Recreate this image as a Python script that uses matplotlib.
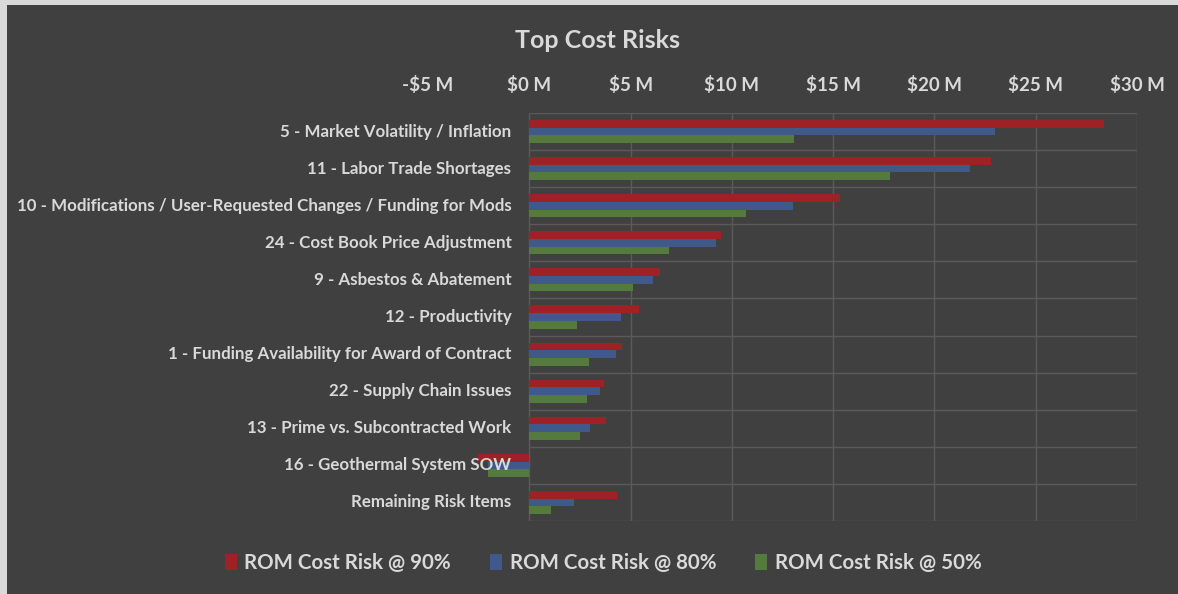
import matplotlib
matplotlib.use("Agg")
import matplotlib.pyplot as plt
from matplotlib.patches import Patch, Rectangle

# values in $M
risks = [
    "5 - Market Volatility / Inflation",
    "11 - Labor Trade Shortages",
    "10 - Modifications / User-Requested Changes / Funding for Mods",
    "24 - Cost Book Price Adjustment",
    "9 - Asbestos & Abatement",
    "12 - Productivity",
    "1 - Funding Availability for Award of Contract",
    "22 - Supply Chain Issues",
    "13 - Prime vs. Subcontracted Work",
    "16 - Geothermal System SOW",
    "Remaining Risk Items",
]
p90 = [28.35, 22.8, 15.35, 9.45, 6.45, 5.4, 4.6, 3.7, 3.8, -2.55, 4.35]
p80 = [23.0, 21.75, 13.0, 9.2, 6.1, 4.55, 4.3, 3.5, 3.0, -2.05, 2.2]
p50 = [13.05, 17.8, 10.7, 6.9, 5.1, 2.35, 2.95, 2.85, 2.5, -2.05, 1.05]
series = ["ROM Cost Risk @ 90%", "ROM Cost Risk @ 80%", "ROM Cost Risk @ 50%"]
colors = ["#9e2225", "#3f5a8a", "#557a3d"]
ticks = [-5, 0, 5, 10, 15, 20, 25, 30]

BG = "#404040"
GRID = "#5a5a5a"
TXT = "#d9d9d9"
plt.rcParams["font.family"] = ["Lato", "DejaVu Sans"]
plt.rcParams["font.weight"] = "bold"

W, H = 1178, 594
fig = plt.figure(figsize=(W / 100, H / 100), dpi=100, facecolor=BG)
# light frame strips at top/left of the screenshot
fig.patches.append(Rectangle((0, 1 - 5 / H), 1, 5 / H, transform=fig.transFigure,
                             facecolor="#d9d9d9", lw=0))
fig.patches.append(Rectangle((0, 0), 7 / W, 1, transform=fig.transFigure,
                             facecolor="#d9d9d9", lw=0))

ax = fig.add_axes([428 / W, (H - 521) / H, 709 / W, 408 / H])
ax.set_facecolor("none")
for s in ax.spines.values():
    s.set_visible(False)

n = len(risks)
bw = 0.207
ypos = list(range(n))
for k, (vals, c) in enumerate(zip([p90, p80, p50], colors)):
    off = (k - 1) * bw
    ax.barh([y + off for y in ypos], vals, height=bw, color=c, zorder=2,
            label=series[k])

# grid only over the 0..30 span, as in the original
ax.hlines([y - 0.5 for y in range(n + 1)], 0, 30, color=GRID, lw=1, zorder=1)
ax.vlines(ticks[1:], -0.5, n - 0.5, color=GRID, lw=1, zorder=1)

ax.set_xlim(-5, 30)
ax.set_ylim(n - 0.5, -0.5)
ax.set_yticks([])
ax.xaxis.tick_top()
ax.set_xticks(ticks)
ax.set_xticklabels([("-$%d M" % -t) if t < 0 else ("$%d M" % t) for t in ticks],
                   color=TXT, fontsize=13.5, fontweight="bold")
ax.tick_params(axis="x", length=0, pad=14)

for y, name in zip(ypos, risks):
    ax.text(-0.88, y, name, ha="right", va="center", color=TXT, fontsize=12.2,
            fontweight="bold", zorder=3)

fig.text(0.507, 1 - 40 / H, "Top Cost Risks", ha="center", va="center",
         color=TXT, fontsize=18, fontweight="bold")

handles = [Patch(facecolor=c, label=s) for c, s in zip(colors, series)]
leg = fig.legend(handles=handles, loc="center", bbox_to_anchor=(0.512, 1 - 563 / H),
                 ncol=3, frameon=False, fontsize=14.8, handlelength=0.6,
                 handleheight=0.8, handletextpad=0.35, columnspacing=1.9)
for t in leg.get_texts():
    t.set_color(TXT)
    t.set_fontweight("bold")

fig.savefig("out.png", dpi=100, facecolor=fig.get_facecolor())
